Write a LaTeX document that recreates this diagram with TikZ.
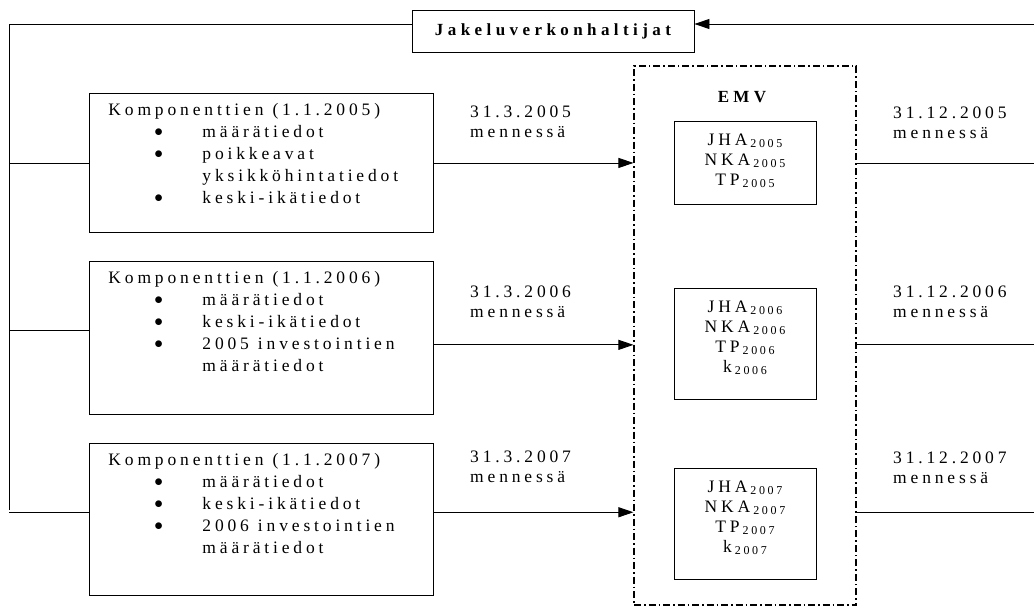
\documentclass[tikz,border=0pt]{standalone}
\usepackage{fontspec}
\setmainfont{Liberation Serif}[LetterSpace=22]
\newfontfamily\headfont{Liberation Serif}[LetterSpace=26]
\usetikzlibrary{arrows.meta, positioning}

\newcommand{\ws}{\hspace{9pt}}
\newcommand{\bul}[1]{\hspace*{46pt}\makebox[48pt][l]{\raisebox{1pt}{$\bullet$}}#1}
\newcommand{\ind}[1]{\hspace*{94pt}#1}
\newcommand{\yr}[1]{\hspace{3pt}\raisebox{-2pt}{\fontsize{12}{12}\selectfont #1}}

\begin{document}
\begin{tikzpicture}[
    x=1pt, y=-1pt,
    node distance=28pt,
    font=\fontsize{17.5}{20}\selectfont,
    comp/.style={
        draw,
        line width=0.9pt,
        anchor=north west,
        inner xsep=19pt,
        inner ysep=0pt,
        text width=306pt,
        text height=22pt,
        align=left,
        font=\fontsize{17.5}{22}\selectfont
    },
    result/.style={
        draw,
        line width=0.9pt,
        anchor=north,
        inner sep=0pt,
        text width=142pt,
        text height=24pt,
        align=center
    },
    head/.style={
        draw=none,
        font=\headfont\bfseries\fontsize{17}{17}\selectfont
    },
    deadline/.style={
        anchor=base west,
        inner sep=0pt,
        text width=130pt,
        align=left
    },
    line/.style={line width=0.9pt},
    arrow/.style={line, -{Triangle[length=15pt, width=10pt]}}
]
\useasboundingbox (0,0) rectangle (1034,608);

% Network operators
\node (jak) [head, draw, line width=0.9pt, minimum width=282pt, minimum height=42pt]
    at (553,31) {Jakeluverkonhaltijat};

% Component data boxes
\node (comp1) [comp, text depth=117pt] at (89,93)
    {Komponenttien\ws(1.1.2005)\\
     \bul{määrätiedot}\\
     \bul{poikkeavat}\\
     \ind{yksikköhintatiedot}\\
     \bul{keski-ikätiedot}};

\node (comp2) [comp, text depth=131pt, below=of comp1]
    {Komponenttien\ws(1.1.2006)\\
     \bul{määrätiedot}\\
     \bul{keski-ikätiedot}\\
     \bul{2005\ws investointien}\\
     \ind{määrätiedot}};

\node (comp3) [comp, text depth=130pt, below=of comp2]
    {Komponenttien\ws(1.1.2007)\\
     \bul{määrätiedot}\\
     \bul{keski-ikätiedot}\\
     \bul{2006\ws investointien}\\
     \ind{määrätiedot}};

% EMV
\node (emv) [draw, line width=1.1pt, dash pattern=on 7pt off 3pt on 1.5pt off 3pt,
    minimum width=222pt, minimum height=539pt] at (745,335.5) {};
\node (emvlabel) [head] at (742,97) {EMV};

\node (res1) [result, text depth=59pt] at (745,121)
    {JHA\yr{2005}\\NKA\yr{2005}\\TP\yr{2005}};
\node (res2) [result, text depth=87pt] at (745,288)
    {JHA\yr{2006}\\NKA\yr{2006}\\TP\yr{2006}\\k\yr{2006}};
\node (res3) [result, text depth=87pt] at (745,468)
    {JHA\yr{2007}\\NKA\yr{2007}\\TP\yr{2007}\\k\yr{2007}};

% Deadlines
\node (in1) [deadline] at (470,117) {31.3.2005\\mennessä};
\node (in2) [deadline] at (470,297) {31.3.2006\\mennessä};
\node (in3) [deadline] at (470,462) {31.3.2007\\mennessä};
\node (out1) [deadline] at (893,118) {31.12.2005\\mennessä};
\node (out2) [deadline] at (893,297) {31.12.2006\\mennessä};
\node (out3) [deadline] at (893,463) {31.12.2007\\mennessä};

% Left bus
\coordinate (busB) at (9,510);
\coordinate (rim) at (1040,24);
\coordinate (jw) at ([yshift=7pt]jak.west);
\coordinate (je) at ([yshift=7pt]jak.east);
\coordinate (s2) at ([yshift=7.5pt]comp2.west);
\coordinate (s3) at ([yshift=7pt]comp3.west);

\draw[line] (jw) -| (busB);
\draw[line] (comp1.west -| busB) -- (comp1.west);
\draw[line] (s2 -| busB) -- (s2);
\draw[line] (s3 -| busB) -- (s3);

% Deliveries to EMV
\coordinate (a1) at (comp1.east);
\coordinate (a2) at ([yshift=-7pt]comp2.east);
\coordinate (a3) at ([yshift=7pt]comp3.east);

\draw[arrow] (a1) -- (a1 -| emv.west);
\draw[arrow] (a2) -- (a2 -| emv.west);
\draw[arrow] (a3) -- (a3 -| emv.west);

% Back to the operators
\draw[line] (a1 -| emv.east) -- (a1 -| rim);
\draw[line] (a2 -| emv.east) -- (a2 -| rim);
\draw[line] (a3 -| emv.east) -- (a3 -| rim);
\draw[arrow] (a3 -| rim) -- (rim) -- (je);

\end{tikzpicture}
\end{document}
